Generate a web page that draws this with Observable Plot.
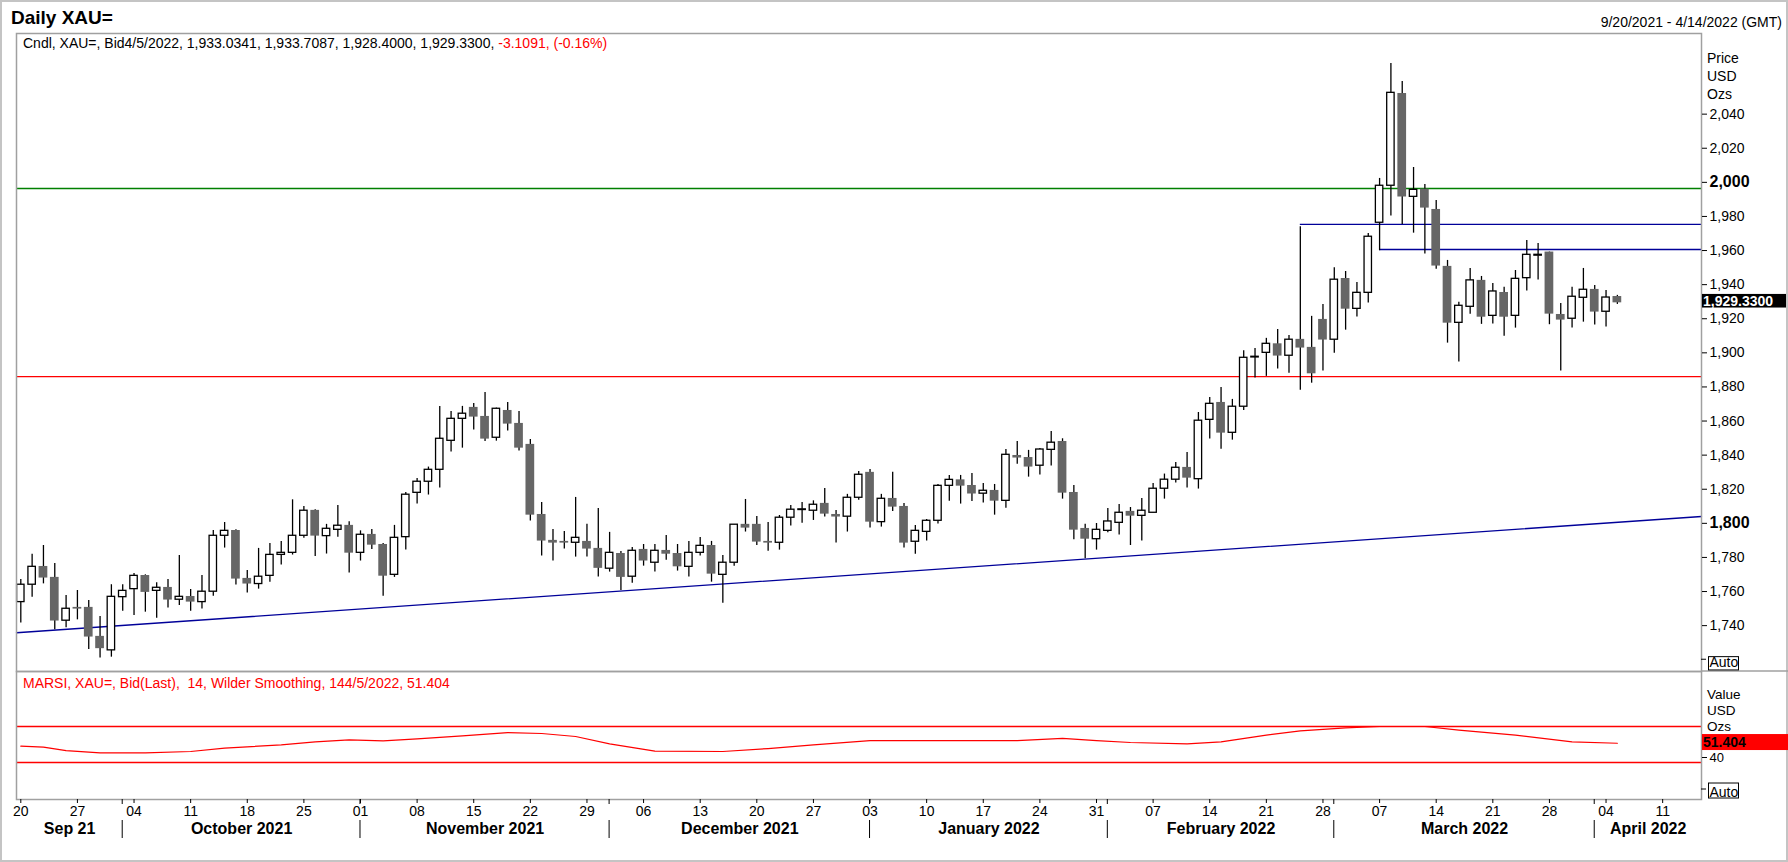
<!DOCTYPE html>
<html><head><meta charset="utf-8">
<script src="https://cdn.jsdelivr.net/npm/d3@7"></script>
<script src="https://cdn.jsdelivr.net/npm/@observablehq/plot@0.6"></script>
<style>
html,body{margin:0;padding:0;background:#fff;overflow:hidden}
#wrap{position:relative;width:1788px;height:862px;overflow:hidden;background:#fff}
#wrap svg{position:absolute;left:0;max-width:none}
</style></head><body><div id="wrap"></div>
<script>
// ---------- DATA ----------
const firstDay = "2021-09-20", lastDay = "2022-04-14"; // chart range (trading days, weekdays)
const open = [
1753.8,1764.0,1774.7,1768.3,1742.9,1750.7,1750.7,1733.7,1725.5,1756.7,
1761.4,1769.4,1760.4,1762.4,1755.2,1757.1,1753.8,1759.9,1792.7,1795.8,
1767.7,1764.4,1769.2,1781.5,1782.7,1792.7,1807.6,1792.5,1796.2,1798.8,
1782.7,1793.5,1787.6,1769.8,1791.9,1817.9,1824.4,1831.4,1848.4,1861.3,
1868.0,1862.7,1850.2,1866.2,1858.6,1846.3,1805.2,1790.0,1789.4,1788.6,
1789.4,1785.3,1773.4,1782.3,1768.7,1784.7,1776.9,1784.1,1782.3,1774.5,
1782.7,1787.0,1769.8,1776.9,1799.4,1799.4,1789.4,1788.6,1803.3,1807.8,
1807.4,1811.7,1805.2,1803.9,1815.0,1829.9,1800.7,1814.6,1809.9,1789.2,
1795.0,1801.5,1822.0,1825.5,1822.2,1817.4,1819.3,1813.2,1839.8,1838.6,
1833.8,1843.1,1848.0,1818.1,1797.0,1790.7,1795.6,1800.3,1807.0,1804.4,
1806.2,1820.3,1825.6,1832.8,1825.9,1860.7,1870.9,1853.1,1868.4,1897.3,
1900.0,1905.3,1898.3,1907.9,1903.2,1919.6,1907.7,1943.6,1925.8,1935.2,
1976.3,1998.0,2052.1,1991.5,1996.0,1984.1,1950.7,1917.6,1927.0,1942.5,
1921.7,1935.4,1921.7,1943.8,1957.0,1959.1,1922.5,1920.0,1932.3,1937.2,
1924.1,1933.0341];
const high = [
1767.1,1781.8,1787.0,1776.5,1757.7,1760.6,1754.8,1745.4,1764.0,1764.0,
1770.6,1769.8,1765.1,1767.1,1781.2,1761.2,1769.4,1795.8,1800.5,1796.2,
1772.4,1785.3,1788.2,1789.4,1813.8,1809.9,1808.0,1799.4,1810.5,1800.9,
1795.6,1796.4,1788.2,1798.8,1818.1,1826.3,1833.0,1868.6,1865.6,1868.6,
1870.3,1876.8,1867.6,1870.9,1865.6,1849.2,1812.2,1796.4,1795.2,1815.2,
1799.4,1808.7,1794.7,1783.5,1785.9,1787.6,1787.6,1792.9,1787.6,1789.4,
1791.7,1789.4,1781.2,1799.2,1814.0,1804.0,1800.5,1804.6,1810.5,1812.2,
1813.2,1820.5,1807.6,1817.0,1830.4,1831.6,1817.0,1829.9,1811.7,1798.8,
1802.3,1822.8,1828.1,1828.1,1829.3,1823.4,1822.8,1843.3,1848.0,1842.8,
1843.9,1853.9,1849.6,1822.2,1799.4,1799.9,1808.7,1811.1,1809.3,1814.6,
1823.4,1828.9,1835.7,1841.6,1865.0,1873.8,1879.7,1872.7,1901.2,1902.5,
1908.5,1913.7,1910.2,1973.9,1921.4,1928.4,1949.9,1947.7,1941.3,1970.0,
2002.3,2069.7,2059.2,2008.7,1998.8,1989.4,1954.2,1929.6,1949.5,1944.8,
1940.7,1938.4,1948.3,1965.9,1964.2,1959.1,1929.0,1938.4,1949.5,1939.5,
1936.6,1933.7087];
const low = [
1741.5,1756.7,1764.5,1737.6,1738.7,1743.4,1726.0,1721.0,1721.5,1748.5,
1746.0,1747.9,1744.4,1750.3,1751.8,1748.5,1749.7,1757.3,1785.5,1763.8,
1759.1,1761.4,1765.5,1775.5,1781.4,1791.3,1780.6,1782.0,1791.9,1770.8,
1777.9,1784.7,1757.3,1768.3,1784.3,1811.3,1816.6,1820.7,1841.8,1844.1,
1854.7,1848.0,1848.2,1854.1,1842.4,1801.3,1780.8,1777.9,1784.9,1780.2,
1780.2,1768.5,1771.4,1760.6,1764.9,1774.9,1771.4,1778.4,1772.0,1768.5,
1780.8,1765.5,1753.2,1774.9,1794.9,1787.0,1783.7,1784.3,1798.4,1800.1,
1801.7,1803.7,1788.4,1794.9,1813.6,1797.2,1797.8,1807.0,1785.5,1781.9,
1789.6,1799.6,1813.0,1811.3,1812.8,1811.9,1804.8,1808.9,1834.7,1827.1,
1828.3,1833.6,1814.2,1790.4,1779.2,1784.3,1794.5,1793.1,1787.0,1789.6,
1806.2,1814.2,1823.6,1820.7,1820.1,1849.4,1843.5,1848.8,1866.2,1885.2,
1886.2,1890.5,1888.1,1878.1,1882.2,1889.3,1899.8,1913.3,1921.0,1929.2,
1959.9,1980.2,1975.3,1970.2,1957.9,1949.1,1905.7,1894.6,1922.7,1916.7,
1916.9,1909.8,1914.5,1936.2,1942.7,1916.5,1889.3,1914.5,1918.0,1916.3,
1915.1,1928.40];
const close = [
1764.0,1774.5,1767.9,1742.7,1749.9,1749.7,1733.3,1726.5,1756.9,1760.4,
1769.2,1759.5,1762.2,1755.0,1756.9,1753.8,1759.9,1792.7,1795.6,1767.3,
1764.4,1768.7,1781.5,1782.7,1792.7,1807.4,1792.5,1796.8,1798.6,1782.5,
1793.3,1787.2,1769.0,1791.5,1816.8,1824.4,1831.4,1849.6,1861.3,1864.3,
1862.3,1849.4,1867.2,1858.2,1844.1,1804.8,1789.6,1788.4,1788.4,1791.5,
1784.9,1773.6,1782.7,1768.3,1783.9,1777.9,1783.9,1781.9,1774.5,1782.7,
1786.8,1770.2,1776.9,1799.2,1797.2,1789.0,1788.4,1803.3,1808.0,1808.2,
1810.9,1805.4,1803.7,1815.0,1828.5,1800.7,1814.4,1809.5,1788.4,1795.6,
1801.5,1822.0,1825.5,1821.8,1817.2,1819.1,1813.0,1840.2,1838.3,1833.0,
1843.3,1847.3,1817.7,1796.0,1790.7,1796.2,1801.1,1806.2,1804.2,1807.4,
1820.3,1825.6,1832.6,1826.5,1860.2,1870.1,1852.9,1868.4,1897.1,1897.7,
1905.3,1898.1,1907.7,1902.8,1887.7,1907.5,1942.9,1925.6,1935.2,1968.1,
1998.0,2052.5,1991.4,1995.6,1984.9,1950.9,1917.4,1927.6,1942.5,1920.9,
1936.0,1920.9,1943.4,1957.5,1957.5,1922.7,1919.2,1932.9,1937.0,1923.9,
1932.4391,1929.33];

// RSI readings (date, value)
const rsiDates = ["2021-09-20","2021-09-22","2021-09-24","2021-09-29","2021-10-05","2021-10-11","2021-10-14",
"2021-10-21","2021-10-26","2021-10-29","2021-11-03","2021-11-08","2021-11-12","2021-11-18","2021-11-23",
"2021-11-26","2021-12-01","2021-12-07","2021-12-15","2021-12-21","2021-12-27","2022-01-03","2022-01-06",
"2022-01-20","2022-01-26","2022-01-31","2022-02-03","2022-02-10","2022-02-15","2022-02-21","2022-02-24",
"2022-03-02","2022-03-07","2022-03-11","2022-03-16","2022-03-23","2022-03-30","2022-04-05"];
const rsiValues = [48.1,47.0,43.3,40.8,40.8,42.2,45.9,49.6,53.0,55.2,54.1,56.3,59.6,63.3,62.2,58.9,50.7,42.6,
42.2,45.5,49.6,54.4,54.4,54.4,56.7,54.4,52.2,50.7,52.9,60.4,65.2,68.5,70.0,70.0,65.9,60.4,53.0,51.404];
const rsiBands = [30, 70];

// Reference lines
const fullLevelGreen = 1996.4;
const fullLevelRed = 1886.0;
const resistanceDates = ["2022-02-24", "2022-03-07"];
const resistancePrices = [1975.3, 1960.6];
const trendDates = ["2021-09-20", "2022-04-14"];
const trendPrices = [1736.0, 1803.8];

// Axis ticks / labels
const priceTicks = [1740,1760,1780,1820,1840,1860,1880,1900,1920,1940,1960,1980,2020,2040];
const priceTicksBold = [1800, 2000];
const priceAutoTick = 1720;
const rsiTicks = [40];
const rsiAutoTick = 0;
const monthLabels = ["Sep 21","October 2021","November 2021","December 2021","January 2022","February 2022","March 2022","April 2022"];
const titleText = "Daily XAU=";
const rangeText = "9/20/2021 - 4/14/2022 (GMT)";
const rsiHeader = "MARSI, XAU=, Bid(Last),  14, Wilder Smoothing, 144/5/2022, 51.404";

// ---------- BUILD ----------
const parse = d3.utcParse("%Y-%m-%d");
const tradingDays = d3.utcDays(parse(firstDay), d3.utcDay.offset(parse(lastDay), 1))
  .filter(d => d.getUTCDay() !== 0 && d.getUTCDay() !== 6);
const idxOf = new Map(tradingDays.map((d, i) => [+d, i]));
const di = s => idxOf.get(+parse(s));

const candles = open.map((o, i) => ({i, open: o, high: high[i], low: low[i], close: close[i]}));
const up = candles.filter(d => d.close >= d.open);
const down = candles.filter(d => d.close < d.open);
const rsi = rsiDates.map((s, k) => ({i: di(s), v: rsiValues[k]}));
const resist = resistanceDates.map((s, k) => ({i: di(s), price: resistancePrices[k]}));

const W = 1788, H = 862, L = 16, R = 1701, T = 33, DIV = 671, BOT = 799;
const xDomain = [-0.38, tradingDays.length - 1 + 0.43];
const t0 = di(trendDates[0]), t1 = di(trendDates[1]);
const trendAt = i => trendPrices[0] + (trendPrices[1] - trendPrices[0]) * (i - t0) / (t1 - t0);
const trend = xDomain.map(i => ({i, price: trendAt(i)}));

const FONT = '"Liberation Sans", Arial, sans-serif';
const RED = "#ff0000", GREEN = "#008000", BLUE = "#000099", GRAY = "#666666", FRAME = "#a0a0a0";
const style = {fontFamily: FONT, fontSize: "14px", color: "#000", background: "transparent", overflow: "visible", maxWidth: "none"};
const HW = 0.385;

const priceChart = Plot.plot({
  width: W, height: DIV, marginTop: T, marginLeft: L, marginRight: W - R, marginBottom: 0,
  x: {domain: xDomain, axis: null, label: null},
  y: {domain: [1713.1, 2087.3], label: null},
  style,
  marks: [
    Plot.ruleY([fullLevelGreen], {stroke: GREEN, strokeWidth: 1.3}),
    Plot.ruleY([fullLevelRed], {stroke: RED, strokeWidth: 1.3}),
    Plot.ruleY(resist, {y: "price", x1: "i", x2: xDomain[1], stroke: BLUE, strokeWidth: 1.3}),
    Plot.line(trend, {x: "i", y: "price", stroke: BLUE, strokeWidth: 1.3}),
    Plot.ruleX(candles, {x: "i", y1: "low", y2: "high", stroke: "#000", strokeWidth: 1.3}),
    Plot.rect(down, {x1: d => d.i - HW, x2: d => d.i + HW, y1: "open", y2: "close", fill: GRAY}),
    Plot.rect(up, {x1: d => d.i - HW, x2: d => d.i + HW, y1: "open", y2: "close", fill: "white", stroke: "#000", strokeWidth: 1.3, insetLeft: 0.65, insetRight: 0.65}),
    Plot.frame({stroke: FRAME, strokeWidth: 1.5}),
    Plot.axisY({ticks: priceTicks, anchor: "right", tickSize: 5, tickPadding: 3, tickFormat: d3.format(","), fontSize: 14, label: null}),
    Plot.axisY({ticks: priceTicksBold, anchor: "right", tickSize: 5, tickPadding: 3, tickFormat: d3.format(","), fontSize: 16, fontWeight: "bold", label: null})
  ]
});
priceChart.style.top = "0px";

// month boundaries
const sepIdx = [];
for (let i = 1; i < tradingDays.length; i++) if (tradingDays[i].getUTCMonth() !== tradingDays[i-1].getUTCMonth()) sepIdx.push(i);
const bounds = [xDomain[0], ...sepIdx, xDomain[1]];
const monthMid = monthLabels.map((_, k) => (bounds[k] + bounds[k+1]) / 2);
const monthLabelOf = new Map(monthMid.map((m, k) => [m, monthLabels[k]]));
const mondayIdx = tradingDays.map((d, i) => d.getUTCDay() === 1 ? i : -1).filter(i => i >= 0);
const fmtDay = d3.utcFormat("%d");

const rsiChart = Plot.plot({
  width: W, height: H - DIV, marginTop: 0, marginLeft: L, marginRight: W - R, marginBottom: H - BOT,
  x: {domain: xDomain, label: null},
  y: {domain: [-11.1, 131.1], label: null},
  style,
  marks: [
    Plot.ruleY(rsiBands, {stroke: RED, strokeWidth: 1.4}),
    Plot.line(rsi, {x: "i", y: "v", stroke: RED, strokeWidth: 1.2}),
    Plot.frame({stroke: FRAME, strokeWidth: 1.5}),
    Plot.axisY({ticks: rsiTicks, anchor: "right", tickSize: 5, tickPadding: 3, fontSize: 13, dy: 4, label: null}),
    Plot.axisX({ticks: mondayIdx, tickFormat: i => fmtDay(tradingDays[i]), tickSize: 4, tickPadding: 3, fontSize: 14, label: null}),
    Plot.axisX({ticks: monthMid, tickFormat: m => monthLabelOf.get(m), tickSize: 0, tickPadding: 23, fontSize: 16, fontWeight: "bold", label: null})
  ]
});
rsiChart.style.top = DIV + "px";

const wrap = document.getElementById("wrap");
wrap.appendChild(priceChart);
wrap.appendChild(rsiChart);

// ---------- overlay annotations ----------
const xS = priceChart.scale("x"), yP = priceChart.scale("y"), yR = rsiChart.scale("y");
const ov = d3.create("svg").attr("width", W).attr("height", H).style("top", "0px")
  .style("font-family", FONT).style("font-size", "14px");
ov.append("rect").attr("x", 1).attr("y", 1).attr("width", W - 2).attr("height", H - 2)
  .attr("fill", "none").attr("stroke", "#c4c4c4").attr("stroke-width", 2);
ov.append("line").attr("x1", R).attr("x2", W).attr("y1", DIV).attr("y2", DIV).attr("stroke", FRAME).attr("stroke-width", 1.5);

ov.append("text").attr("x", 11).attr("y", 23.5).attr("font-size", 19).attr("font-weight", "bold").text(titleText);
ov.append("text").attr("x", 1782).attr("y", 26.5).attr("text-anchor", "end").text(rangeText);

const n = candles.length - 1, lastC = candles[n];
const f4 = v => d3.format(",.4f")(v).replace("\u2212", "-");
const chg = lastC.close - candles[n - 1].close;
const hdr = ov.append("text").attr("x", 23).attr("y", 48).attr("xml:space", "preserve");
hdr.append("tspan").text(`Cndl, XAU=, Bid${d3.utcFormat("%-m/%-d/%Y")(tradingDays[n])}, ${f4(lastC.open)}, ${f4(lastC.high)}, ${f4(lastC.low)}, ${f4(lastC.close)}, `);
hdr.append("tspan").attr("fill", RED).text(`${d3.format(".4f")(chg).replace("\u2212","-")}, (${d3.format(".2f")(chg / candles[n-1].close * 100).replace("\u2212","-")}%)`);

["Price", "USD", "Ozs"].forEach((t, k) => ov.append("text").attr("x", 1707).attr("y", 63 + 18 * k).text(t));
["Value", "USD", "Ozs"].forEach((t, k) => ov.append("text").attr("x", 1707).attr("y", 699 + 16 * k).attr("font-size", 13.5).text(t));

ov.append("text").attr("x", 23).attr("y", 688).attr("fill", RED).attr("xml:space", "preserve").style("white-space", "pre").text(rsiHeader);

// Auto boxes
function autoBox(y, top, bottom, base) {
  ov.append("line").attr("x1", R).attr("x2", R + 5).attr("y1", y).attr("y2", y).attr("stroke", "#000");
  ov.append("rect").attr("x", 1708.5).attr("y", y + top).attr("width", 30).attr("height", bottom - top)
    .attr("fill", "white").attr("stroke", "#000").attr("stroke-width", 1);
  ov.append("text").attr("x", 1709.5).attr("y", y + base).text("Auto");
}
autoBox(yP.apply(priceAutoTick), -2.6, 10.7, 8);
autoBox(DIV + yR.apply(rsiAutoTick), -6, 9, 7.5);

// last value labels
const yl = yP.apply(lastC.close);
ov.append("rect").attr("x", 1702).attr("y", yl - 8.4).attr("width", 84).attr("height", 13.6).attr("fill", "#000");
ov.append("text").attr("x", 1703).attr("y", yl + 3.8).attr("fill", "#fff").attr("font-weight", "bold").text(d3.format(",.4f")(lastC.close));
const rl = DIV + yR.apply(rsiValues[rsiValues.length - 1]);
ov.append("rect").attr("x", 1702).attr("y", rl - 8.7).attr("width", 86).attr("height", 16).attr("fill", RED);
ov.append("text").attr("x", 1703).attr("y", rl + 4.2).attr("fill", "#000").attr("font-weight", "bold").text(d3.format(".3f")(rsiValues[rsiValues.length - 1]));

// month separators
sepIdx.forEach(i => {
  const x = xS.apply(i);
  ov.append("line").attr("x1", x).attr("x2", x).attr("y1", BOT).attr("y2", BOT + 5).attr("stroke", "#000");
  ov.append("line").attr("x1", x).attr("x2", x).attr("y1", 820).attr("y2", 838).attr("stroke", "#000");
});

wrap.appendChild(ov.node());
</script></body></html>
